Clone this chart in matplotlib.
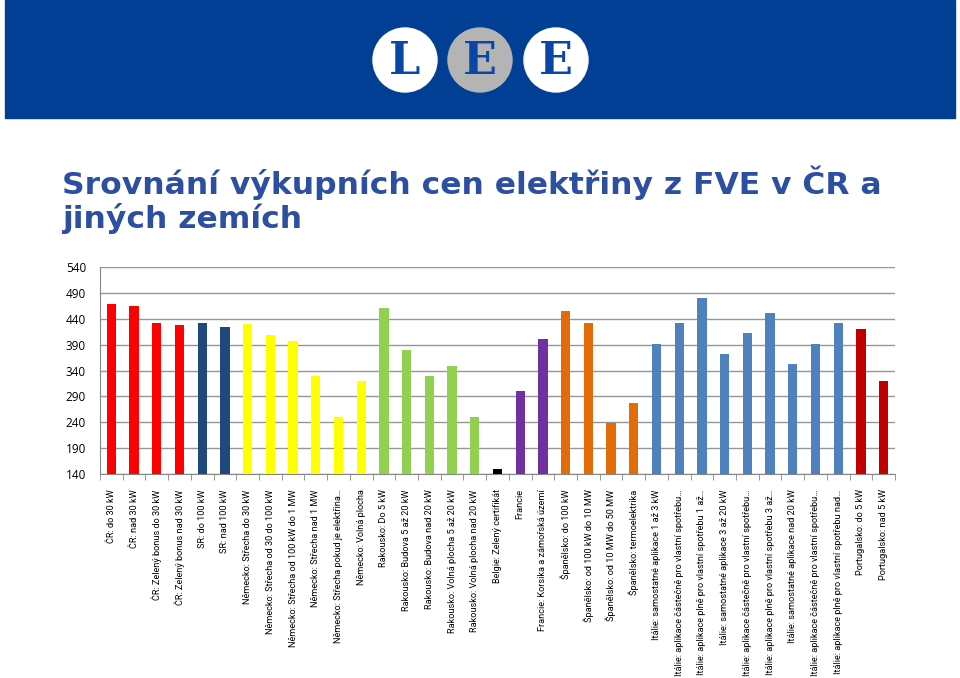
import matplotlib
matplotlib.use("Agg")
import matplotlib.pyplot as plt
from matplotlib.patches import Rectangle, Circle

categories = [
    "ČR: do 30 kW", "ČR: nad 30 kW", "ČR: Zelený bonus do 30 kW", "ČR: Zelený bonus nad 30 kW",
    "SR: do 100 kW", "SR: nad 100 kW",
    "Německo: Střecha do 30 kW", "Německo: Střecha od 30 do 100 kW",
    "Německo: Střecha od 100 kW do 1 MW", "Německo: Střecha nad 1 MW",
    "Německo: Střecha pokud je elektřina…", "Německo: Volná plocha",
    "Rakousko: Do 5 kW", "Rakousko: Budova 5 až 20 kW", "Rakousko: Budova nad 20 kW",
    "Rakousko: Volná plocha 5 až 20 kW", "Rakousko: Volná plocha nad 20 kW",
    "Belgie: Zelený certifikát", "Francie", "Francie: Korsika a zámořská území",
    "Španělsko: do 100 kW", "Španělsko: od 100 kW do 10 MW", "Španělsko: od 10 MW do 50 MW",
    "Španělsko: termoelektrika",
    "Itálie: samostatné aplikace 1 až 3 kW", "Itálie: aplikace částečně pro vlastní spotřebu…",
    "Itálie: aplikace plně pro vlastní spotřebu 1 až…", "Itálie: samostatné aplikace 3 až 20 kW",
    "Itálie: aplikace částečně pro vlastní spotřebu…", "Itálie: aplikace plně pro vlastní spotřebu 3 až…",
    "Itálie: samostatné aplikace nad 20 kW", "Itálie: aplikace částečně pro vlastní spotřebu…",
    "Itálie: aplikace plně pro vlastní spotřebu nad…",
    "Portugalsko: do 5 kW", "Portugalsko: nad 5 kW",
]
values = [469, 464, 432, 428, 431, 425,
          430, 409, 397, 330, 251, 319,
          460, 380, 330, 349, 250,
          149, 300, 400,
          455, 432, 238, 278,
          391, 431, 480, 371, 412, 451, 353, 391, 431,
          420, 320]
country_colors = {
    "ČR": "#FF0000", "SR": "#1F497D", "Německo": "#FFFF00", "Rakousko": "#92D050",
    "Belgie": "#000000", "Francie": "#7030A0", "Španělsko": "#E36C09",
    "Itálie": "#4F81BD", "Portugalsko": "#C00000",
}
colors = [country_colors[c.split(":")[0]] for c in categories]
yticks = [140, 190, 240, 290, 340, 390, 440, 490, 540]

W, H = 960, 678
fig = plt.figure(figsize=(W / 100, H / 100), dpi=100)

# header band with logo
hdr = fig.add_axes([0, 0, 1, 1], zorder=-1)
hdr.set_xlim(0, W)
hdr.set_ylim(H, 0)
hdr.axis("off")
hdr.add_patch(Rectangle((5, 0), 950, 118, color="#003F94"))
for cx, fc, letter in [(405, "white", "L"), (480, "#B4B4B4", "E"), (556, "white", "E")]:
    hdr.add_patch(Circle((cx, 60), 32, color=fc))
    hdr.text(cx, 61, letter, ha="center", va="center", fontsize=32, fontweight="bold",
             family="DejaVu Serif", color="#0A46A6")

fig.text(62 / W, 1 - 166 / H, "Srovnání výkupních cen elektřiny z FVE v ČR a\njiných zemích",
         ha="left", va="top", fontsize=22.6, fontweight="bold", color="#2C4FA2",
         family="DejaVu Sans", linespacing=1.12)

ax = fig.add_axes([100 / W, 1 - 474 / H, 795 / W, 207 / H])
x = list(range(len(categories)))
ax.bar(x, values, width=0.41, color=colors, zorder=3)
ax.set_ylim(140, 540)
ax.set_xlim(-0.5, len(categories) - 0.5)
ax.set_yticks(yticks)
ax.set_yticklabels([str(v) for v in yticks], fontsize=8.5, family="Open Sans")
ax.grid(axis="y", color="#969696", linewidth=1, zorder=0)
ax.set_xticks(x)
ax.set_xticklabels(categories, rotation=90, fontsize=6.6, family="Roboto", ha="center", va="top")
ax.tick_params(axis="x", which="major", length=0, pad=11)
ax.set_xticks([i + 0.5 for i in range(-1, len(categories))], minor=True)
ax.tick_params(axis="x", which="minor", length=4, color="#868686", direction="out")
ax.tick_params(axis="y", length=0, pad=10)
for s in ["top", "right"]:
    ax.spines[s].set_visible(False)
for s in ["left", "bottom"]:
    ax.spines[s].set_color("#868686")

fig.savefig("out.png", dpi=100)
